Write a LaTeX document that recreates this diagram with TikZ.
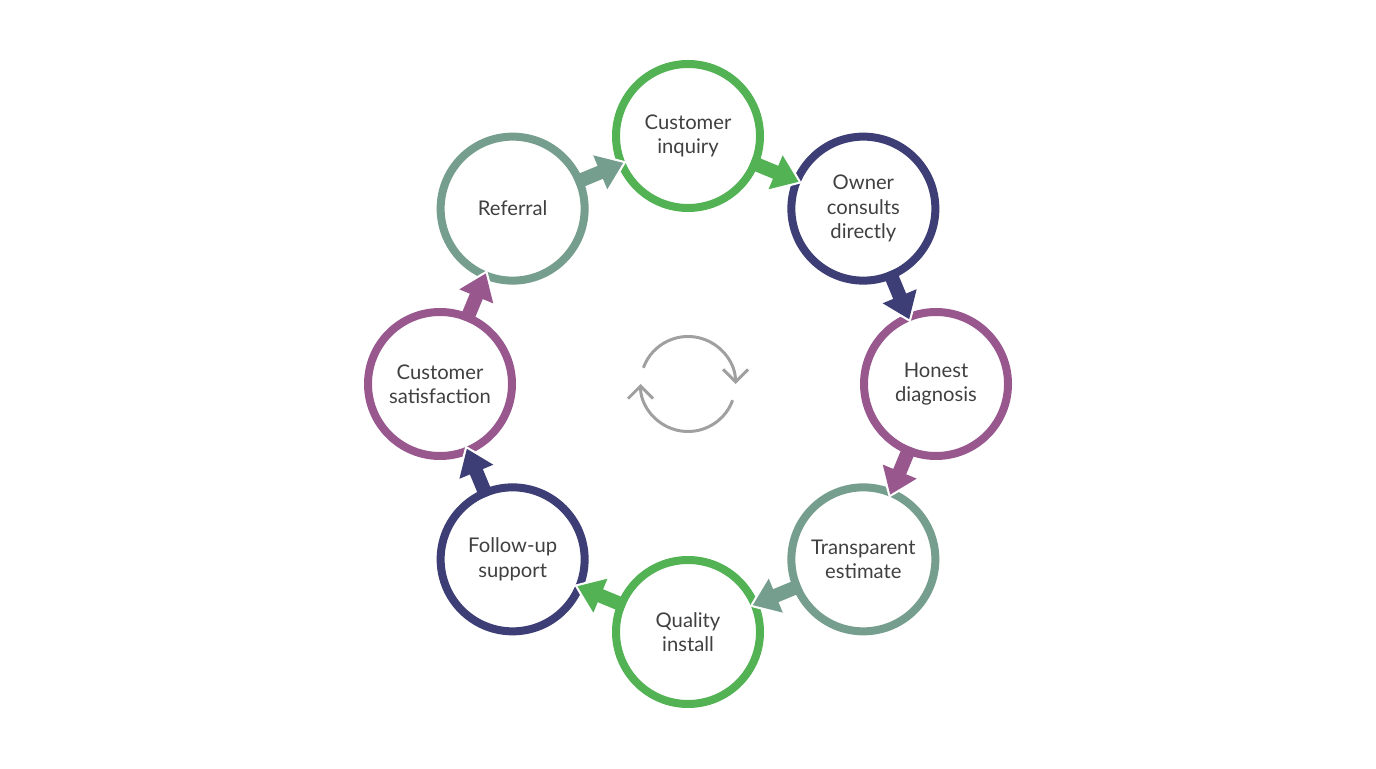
\documentclass[tikz,border=0pt]{standalone}
\usepackage{fontspec}
\setmainfont{Lato}
\usetikzlibrary{arrows.meta, positioning, calc}
\definecolor{stepgreen}{RGB}{82, 178, 84}
\definecolor{stepnavy}{RGB}{62, 62, 118}
\definecolor{steppurple}{RGB}{152, 88, 142}
\definecolor{stepteal}{RGB}{118, 158, 142}
\definecolor{icongray}{RGB}{160, 160, 160}

\begin{document}
\begin{tikzpicture}[
        step/.style={circle, draw=#1, line width=0.16cm, fill=white, minimum size=2.88cm, inner sep=0pt,
            align=center, text=black!75, font=\fontsize{11.5}{13.8}\selectfont},
        flow/.style={draw=#1, line width=0.28cm, shorten <=1.36cm, shorten >=1.4cm,
            -{Triangle[width=0.7cm, length=0.5cm]},
            preaction={draw=white, line width=0.28cm, -{Triangle[width=0.9cm, length=0.62cm]},
                shorten <=1.6cm, shorten >=1.33cm}}
    ]
        \useasboundingbox (0, 0) rectangle (27.52, 15.36);
        \coordinate (c) at (13.76, 7.68);

        \node[step=stepgreen] (inquiry) at ($(c)+(90:4.96)$) {Customer\\inquiry};
        \node[step=stepnavy] (owner) at ($(c)+(45:4.96)$) {Owner\\consults\\directly};
        \node[step=steppurple] (diagnosis) at ($(c)+(0:4.96)$) {Honest\\diagnosis};
        \node[step=stepteal] (estimate) at ($(c)+(-45:4.96)$) {Transparent\\estimate};
        \node[step=stepgreen] (install) at ($(c)+(-90:4.96)$) {Quality\\install};
        \node[step=stepnavy] (support) at ($(c)+(-135:4.96)$) {Follow-up\\support};
        \node[step=steppurple] (satisfaction) at ($(c)+(180:4.96)$) {Customer\\satisfaction};
        \node[step=stepteal] (referral) at ($(c)+(135:4.96)$) {Referral};

        \draw[flow=stepgreen] (inquiry.center) -- (owner.center);
        \draw[flow=stepnavy] (owner.center) -- (diagnosis.center);
        \draw[flow=steppurple] (diagnosis.center) -- (estimate.center);
        \draw[flow=stepteal] (estimate.center) -- (install.center);
        \draw[flow=stepgreen] (install.center) -- (support.center);
        \draw[flow=stepnavy] (support.center) -- (satisfaction.center);
        \draw[flow=steppurple] (satisfaction.center) -- (referral.center);
        \draw[flow=stepteal] (referral.center) -- (inquiry.center);

        % cycle icon in the middle
        \draw[icongray, line width=0.06cm, -{Straight Barb[length=0.25cm, width=0.5cm]}]
            ($(c)+(160:0.95)$) arc (160:0:0.95);
        \draw[icongray, line width=0.06cm, -{Straight Barb[length=0.25cm, width=0.5cm]}]
            ($(c)+(-20:0.95)$) arc (-20:-180:0.95);
    \end{tikzpicture}
\end{document}
